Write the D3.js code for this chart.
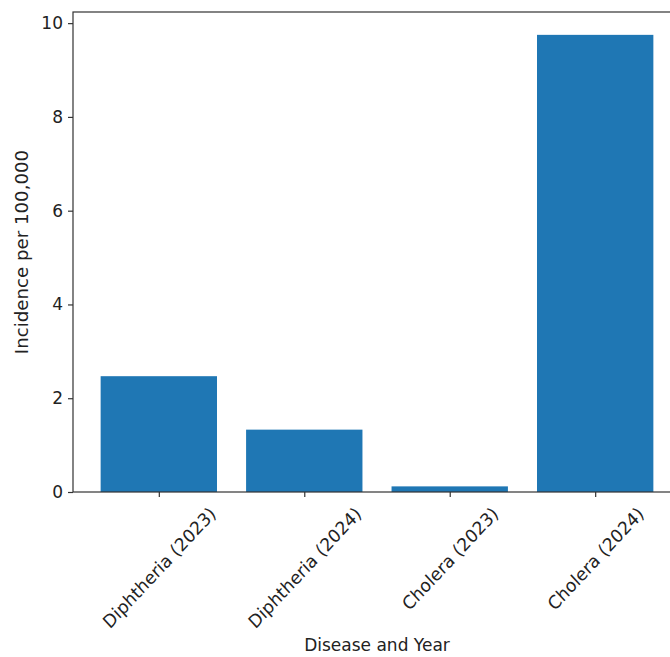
<!DOCTYPE html>
<html>
<head>
<meta charset="utf-8">
<script src="https://cdn.jsdelivr.net/npm/d3@7"></script>
<style>
  body { margin: 0; background: #fff; overflow: hidden; }
  text { font-family: "DejaVu Sans", sans-serif; fill: #222; }
</style>
</head>
<body>
<svg width="670" height="657"></svg>
<script>
const categories = ["Diphtheria (2023)", "Diphtheria (2024)", "Cholera (2023)", "Cholera (2024)"];
const incidence = [2.47, 1.33, 0.12, 9.75];
const yTicks = [0, 2, 4, 6, 8, 10];

const margin = {top: 12, left: 73};
const plotW = 608, plotH = 480;
const fs = 17;
const stretch = 1.07; // picture looks a bit taller than wide

const svg = d3.select("svg");
const g = svg.append("g").attr("transform", `translate(${margin.left},${margin.top})`);

// band layout like matplotlib: bar width 0.8, x margin 0.05
const n = categories.length;
const lo = -0.4 - 0.05 * (n - 0.2), hi = n - 1 + 0.4 + 0.05 * (n - 0.2);
const x = d3.scaleLinear().domain([lo, hi]).range([0, plotW]);
const y = d3.scaleLinear().domain([0, d3.max(incidence) * 1.05]).range([plotH, 0]);

g.selectAll("rect.bar")
  .data(incidence)
  .enter().append("rect")
  .attr("class", "bar")
  .attr("x", (d, i) => x(i - 0.4))
  .attr("width", (d, i) => x(i + 0.4) - x(i - 0.4))
  .attr("y", d => y(d))
  .attr("height", d => plotH - y(d))
  .attr("fill", "#1f77b4");

// y axis
const axisY = d3.axisLeft(y).tickValues(yTicks).tickSize(5).tickPadding(5).tickFormat(d3.format("d"));
const gy = g.append("g").call(axisY);
gy.select(".domain").remove();
gy.selectAll("line").attr("stroke", "#333").attr("stroke-width", 1.2);
gy.selectAll("text").style("font-size", fs + "px").attr("fill", "#222");

// x axis
const axisX = d3.axisBottom(x).tickValues(d3.range(n)).tickSize(5).tickFormat(i => categories[i]);
const gx = g.append("g").attr("transform", `translate(0,${plotH})`).call(axisX);
gx.select(".domain").remove();
gx.selectAll("line").attr("stroke", "#333").attr("stroke-width", 1.2);
gx.selectAll("text")
  .style("font-size", fs + "px")
  .attr("fill", "#222")
  .attr("text-anchor", "middle")
  .attr("dy", "0.35em")
  .each(function () {
    const t = d3.select(this);
    const L = this.getComputedTextLength();
    const half = ((L / 2) * Math.SQRT1_2 + (fs / 2) * Math.SQRT1_2) * stretch;
    t.attr("y", 0).attr("transform", `translate(0,${12 + half}) scale(1,${stretch}) rotate(-45)`);
  });

// spines
g.append("rect")
  .attr("width", plotW).attr("height", plotH)
  .attr("fill", "none").attr("stroke", "#333").attr("stroke-width", 1.2);

// axis titles
g.append("text")
  .attr("x", plotW / 2).attr("y", 651 - margin.top)
  .attr("text-anchor", "middle")
  .style("font-size", fs + "px")
  .text("Disease and Year");

g.append("text")
  .attr("transform", `translate(${22 - margin.left},${252 - margin.top}) scale(1,${stretch}) rotate(-90)`)
  .attr("text-anchor", "middle")
  .attr("dy", "0.35em")
  .style("font-size", fs + "px")
  .text("Incidence per 100,000");
</script>
</body>
</html>
